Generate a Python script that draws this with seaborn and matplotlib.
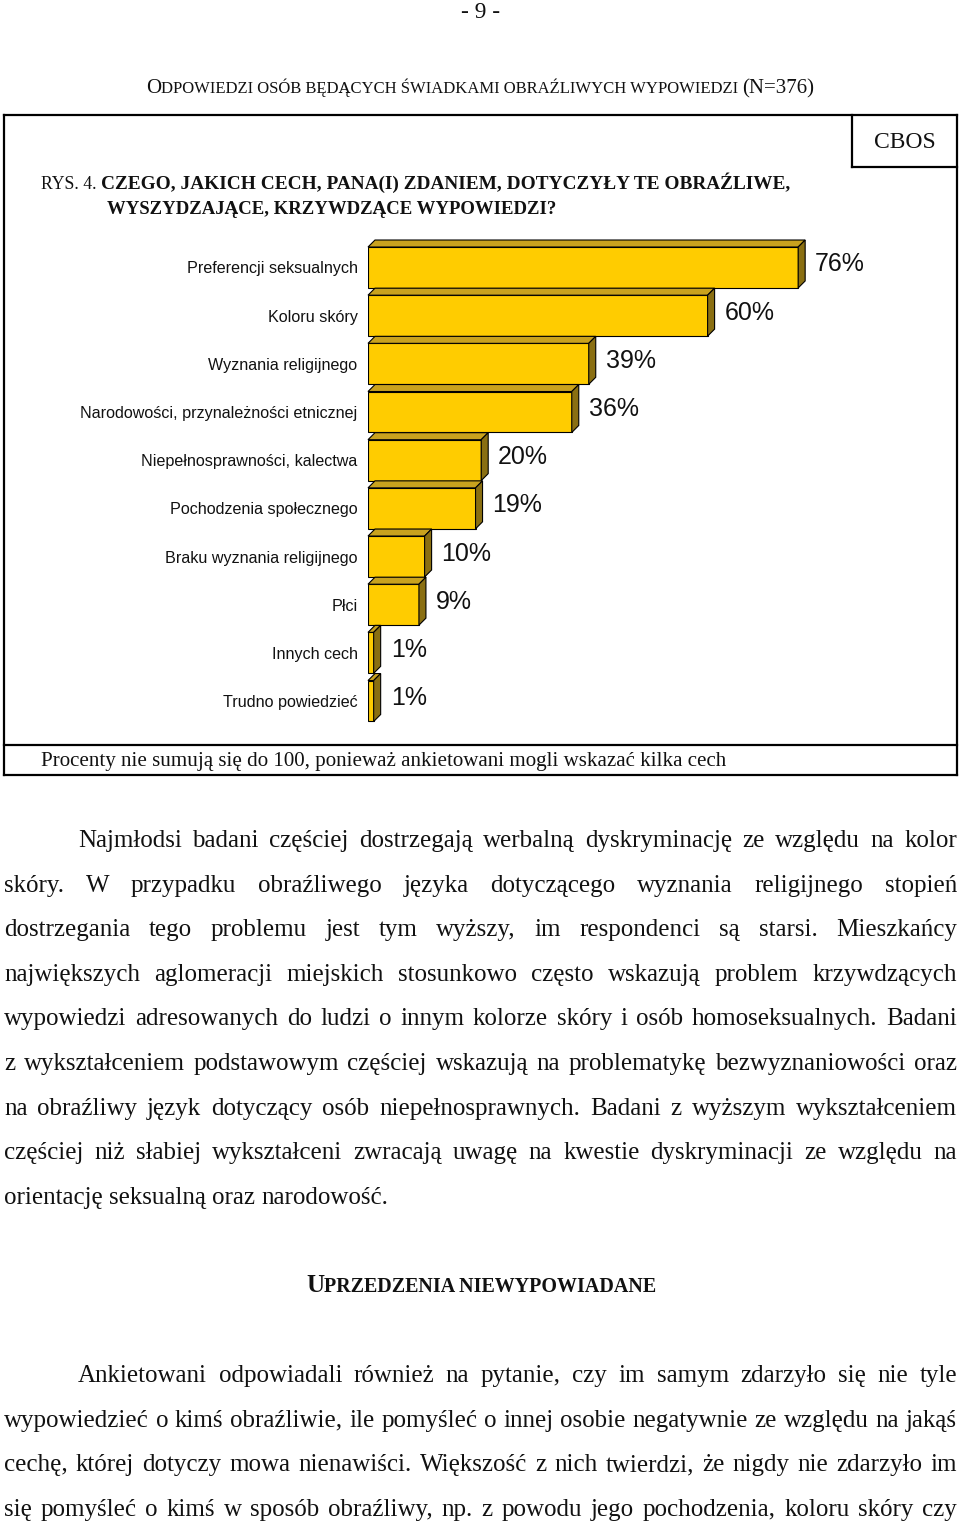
import matplotlib
matplotlib.use("Agg")
import matplotlib.pyplot as plt
import matplotlib.transforms as mtransforms
from matplotlib.patches import Polygon
from matplotlib.lines import Line2D
import seaborn as sns
import pandas as pd

# ---------------- data ----------------
categories = [
    "Preferencji seksualnych",
    "Koloru skóry",
    "Wyznania religijnego",
    "Narodowości, przynależności etnicznej",
    "Niepełnosprawności, kalectwa",
    "Pochodzenia społecznego",
    "Braku wyznania religijnego",
    "Płci",
    "Innych cech",
    "Trudno powiedzieć",
]
values = [76, 60, 39, 36, 20, 19, 10, 9, 1, 1]
value_labels = [f"{v}%" for v in values]

page_number = "- 9 -"
section_title = ["O", "DPOWIEDZI OSÓB BĘDĄCYCH ŚWIADKAMI OBRAŹLIWYCH WYPOWIEDZI", "(N=376)"]
fig_no = "RYS. 4."
question_1 = "CZEGO, JAKICH CECH, PANA(I) ZDANIEM, DOTYCZYŁY TE OBRAŹLIWE,"
question_2 = "WYSZYDZAJĄCE, KRZYWDZĄCE WYPOWIEDZI?"
source = "CBOS"
note = "Procenty nie sumują się do 100, ponieważ ankietowani mogli wskazać kilka cech"

paragraph_1 = [
    "Najmłodsi badani częściej dostrzegają werbalną dyskryminację ze względu na kolor",
    "skóry. W przypadku obraźliwego języka dotyczącego wyznania religijnego stopień",
    "dostrzegania tego problemu jest tym wyższy, im respondenci są starsi. Mieszkańcy",
    "największych aglomeracji miejskich stosunkowo często wskazują problem krzywdzących",
    "wypowiedzi adresowanych do ludzi o innym kolorze skóry i osób homoseksualnych. Badani",
    "z wykształceniem podstawowym częściej wskazują na problematykę bezwyznaniowości oraz",
    "na obraźliwy język dotyczący osób niepełnosprawnych. Badani z wyższym wykształceniem",
    "częściej niż słabiej wykształceni zwracają uwagę na kwestie dyskryminacji ze względu na",
    "orientację seksualną oraz narodowość.",
]
heading_2 = ["U", "PRZEDZENIA NIEWYPOWIADANE"]
paragraph_2 = [
    "Ankietowani odpowiadali również na pytanie, czy im samym zdarzyło się nie tyle",
    "wypowiedzieć o kimś obraźliwie, ile pomyśleć o innej osobie negatywnie ze względu na jakąś",
    "cechę, której dotyczy mowa nienawiści. Większość z nich twierdzi, że nigdy nie zdarzyło im",
    "się pomyśleć o kimś w sposób obraźliwy, np. z powodu jego pochodzenia, koloru skóry czy",
]

# ---------------- figure ----------------
sns.set_theme(style="white")
plt.rcParams["font.family"] = ["Liberation Serif", "DejaVu Serif"]
W, H = 960, 1521
fig = plt.figure(figsize=(W / 100, H / 100), dpi=100)
fig.patch.set_facecolor("white")
renderer = fig.canvas.get_renderer()
SERIF = ["Liberation Serif", "DejaVu Serif"]
SANS = ["Liberation Sans", "DejaVu Sans"]


def put(x, y, s, **kw):
    kw.setdefault("va", "baseline")
    kw.setdefault("ha", "left")
    kw.setdefault("color", "#111111")
    return fig.text(x / W, 1 - y / H, s, **kw)


def wpx(t):
    return t.get_window_extent(renderer).width


def space_w(size, weight="normal", family=SERIF):
    a = put(0, 0, "a a", fontsize=size, fontweight=weight, family=family)
    b = put(0, 0, "aa", fontsize=size, fontweight=weight, family=family)
    w = wpx(a) - wpx(b)
    a.remove(); b.remove()
    return w


def runs(x0, x1, y, parts, base, family=SERIF, gaps=None):
    """parts: list of (text, factor, weight); fit total width to x1-x0."""
    if gaps is None:
        gaps = [0] * (len(parts) - 1)
    for _ in range(2):
        texts = [put(0, y, s, fontsize=base * f, fontweight=wt, family=family) for s, f, wt in parts]
        widths = [wpx(t) for t in texts]
        gw = [space_w(base * parts[i][1], parts[i][2], family) if g else 0 for i, g in enumerate(gaps)]
        total = sum(widths) + sum(gw)
        for t in texts:
            t.remove()
        base *= (x1 - x0) / total
    texts = [put(0, y, s, fontsize=base * f, fontweight=wt, family=family) for s, f, wt in parts]
    gw = [space_w(base * parts[i][1], parts[i][2], family) if g else 0 for i, g in enumerate(gaps)] + [0]
    x = x0
    for t, g in zip(texts, gw):
        t.set_x(x / W)
        x += wpx(t) + g
    return base


def justify(line, x0, x1, y, size, full=True):
    words = line.split(" ")
    texts = [put(0, y, w_, fontsize=size, family=SERIF) for w_ in words]
    widths = [wpx(t) for t in texts]
    if full and len(words) > 1:
        gap = (x1 - x0 - sum(widths)) / (len(words) - 1)
    else:
        gap = space_w(size)
    x = x0
    for t, w_ in zip(texts, widths):
        t.set_x(x / W)
        x += w_ + gap


# ---------------- page texts ----------------
runs(461, 500, 18, [(page_number, 1.0, "normal")], 14)
runs(146, 815, 93, [(section_title[0], 1.0, "normal"), (section_title[1], 0.8, "normal"),
                    (section_title[2], 1.0, "normal")], 14, gaps=[0, 1])

# box
lw = 1.6
def hline(y, xa, xb):
    fig.add_artist(Line2D([xa / W, xb / W], [1 - y / H, 1 - y / H], color="black", lw=lw,
                          transform=fig.transFigure, solid_capstyle="projecting"))
def vline(x, ya, yb):
    fig.add_artist(Line2D([x / W, x / W], [1 - ya / H, 1 - yb / H], color="black", lw=lw,
                          transform=fig.transFigure, solid_capstyle="projecting"))

hline(115, 4, 957); hline(775, 4, 957); vline(4, 115, 775); vline(957, 115, 775)
hline(745, 4, 957)
vline(852, 115, 167); hline(167, 852, 957)

put(904.5, 148, source, fontsize=17, family=SERIF, ha="center")

runs(41, 783, 189, [(fig_no, 0.92, "normal"), (question_1, 1.0, "bold")], 14, gaps=[1, 0])
runs(107, 556, 214, [(question_2, 1.0, "bold")], 14)
runs(41, 720, 766, [(note, 1.0, "normal")], 14)

# ---------------- chart ----------------
ax = fig.add_axes([368 / W, 1 - 725.1 / H, 566 / W, 481.7 / H])
df = pd.DataFrame({"cat": categories, "val": values})
sns.barplot(data=df, x="val", y="cat", orient="h", color="#FFCC00", saturation=1,
            edgecolor="black", linewidth=0.8, width=0.85, ax=ax, zorder=3)
ax.set_xlim(0, 100)
ax.set_ylim(len(categories) - 0.5, -0.5)
ax.set_xlabel(""); ax.set_ylabel("")
ax.xaxis.set_visible(False)
for sp in ax.spines.values():
    sp.set_visible(False)
ax.set_facecolor("none")
ax.tick_params(axis="y", length=0, pad=7.5, labelsize=11.6)
for lab in ax.get_yticklabels():
    lab.set_family(SANS)
    lab.set_color("#111111")

DX, DY = 7, 7
ident = mtransforms.IdentityTransform()
for p, lab in zip(ax.patches, value_labels):
    x0, y0, w, h = p.get_x(), p.get_y(), p.get_width(), p.get_height()
    (L, B1) = ax.transData.transform((x0, y0))
    (R, B2) = ax.transData.transform((x0 + w, y0 + h))
    T, B = max(B1, B2), min(B1, B2)
    top = Polygon([(L, T), (R, T), (R + DX, T + DY), (L + DX, T + DY)], closed=True,
                  facecolor="#C9A21E", edgecolor="black", lw=0.8, transform=ident, clip_on=False, zorder=2)
    side = Polygon([(R, B), (R, T), (R + DX, T + DY), (R + DX, B + DY)], closed=True,
                   facecolor="#8A6F12", edgecolor="black", lw=0.8, transform=ident, clip_on=False, zorder=2)
    fig.add_artist(top); fig.add_artist(side)
    ax.annotate(lab, xy=(x0 + w, y0 + h / 2), xytext=(17, -4), textcoords="offset pixels",
                ha="left", va="baseline", fontsize=18, family=SANS, color="#111111",
                annotation_clip=False)

# ---------------- body text ----------------
probe = put(0, 0, paragraph_1[-1], fontsize=14, family=SERIF)
body_size = 14 * 386 / wpx(probe)
probe.remove()

base1 = 847
step = 44.6
for i, line in enumerate(paragraph_1):
    x0 = 78 if i == 0 else 4
    justify(line, x0, 957, base1 + i * step, body_size, full=(i < len(paragraph_1) - 1))

runs(306, 655, 1292, [(heading_2[0], 1.0, "bold"), (heading_2[1], 0.8, "bold")], 14)

base2 = 1382
for i, line in enumerate(paragraph_2):
    x0 = 78 if i == 0 else 4
    justify(line, x0, 957, base2 + i * 44.7, body_size, full=True)

fig.savefig("out.png", dpi=100, facecolor="white")
